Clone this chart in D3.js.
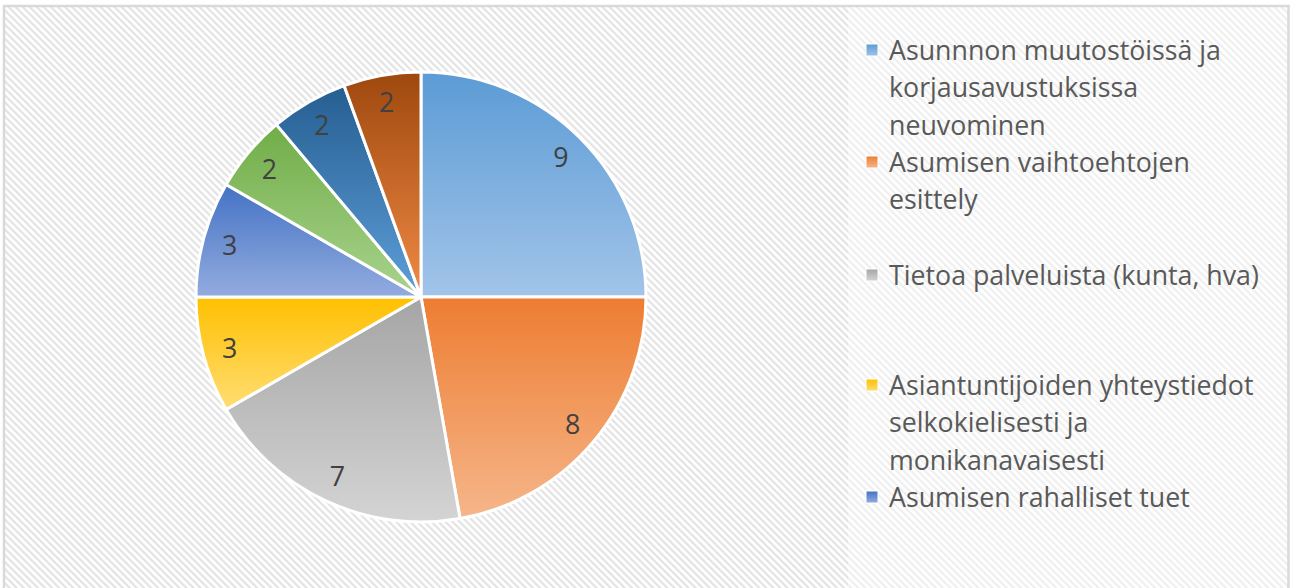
<!DOCTYPE html>
<html>
<head>
<meta charset="utf-8">
<script src="https://cdn.jsdelivr.net/npm/d3@7"></script>
<style>
  html, body { margin: 0; padding: 0; background: #fff; }
  svg { display: block; font-family: "Open Sans", sans-serif; }
</style>
</head>
<body>
<svg id="chart" width="1291" height="588"></svg>
<script>
var categories = ["Asunnnon muutostöissä ja korjausavustuksissa neuvominen",
                  "Asumisen vaihtoehtojen esittely",
                  "Tietoa palveluista (kunta, hva)",
                  "Asiantuntijoiden yhteystiedot selkokielisesti ja monikanavaisesti",
                  "Asumisen rahalliset tuet",
                  "Muu 6", "Muu 7", "Muu 8"];
var values = [9, 8, 7, 3, 3, 2, 2, 2];
var topColors = ["#5b9bd5", "#ed7d31", "#a5a5a5", "#ffc000", "#4472c4", "#70ad47", "#255e91", "#9e480e"];
var bottomColors = ["#a2c4e9", "#f6b68a", "#d4d4d4", "#ffdd73", "#93acdf", "#a9d38e", "#5e9ed8", "#f08a45"];

var width = 1291, height = 588;
var cx = 421, cy = 297, radius = 225;
var plotRight = 848;
var legendX = 866, textX = 889, lineH = 37.5;
var legendTops = [50, 162, 275, 385, 497];   // Excel spreads the entries; only 5 fit

var svg = d3.select("#chart");
var defs = svg.append("defs");

function hatch(id, color) {
	defs.append("pattern")
		.attr("id", id)
		.attr("patternUnits", "userSpaceOnUse")
		.attr("width", 5).attr("height", 5)
		.attr("patternTransform", "rotate(-45)")
		.call(function(p) {
			p.append("rect").attr("width", 5).attr("height", 5).attr("fill", "#fff");
			p.append("rect").attr("width", 2.2).attr("height", 5).attr("fill", color);
		});
}
hatch("hatchPlot", "#e3e3e3");
hatch("hatchChart", "#efefef");

values.forEach(function(v, i) {
	var g = defs.append("linearGradient")
		.attr("id", "grad" + i)
		.attr("x1", 0).attr("y1", 0).attr("x2", 0).attr("y2", 1);
	g.append("stop").attr("offset", "0%").attr("stop-color", topColors[i]);
	g.append("stop").attr("offset", "100%").attr("stop-color", bottomColors[i]);
});

// backgrounds
svg.append("rect").attr("x", 4).attr("y", 6).attr("width", width - 7).attr("height", height)
	.attr("fill", "url(#hatchChart)");
svg.append("rect").attr("x", 5).attr("y", 7).attr("width", plotRight - 5).attr("height", height)
	.attr("fill", "url(#hatchPlot)");
svg.append("rect").attr("x", 4).attr("y", 6).attr("width", width - 6.5).attr("height", height + 10)
	.attr("fill", "none").attr("stroke", "#d9d9d9").attr("stroke-width", 2.5);

// font size: fit the first legend line to about the width it has in the original
var probe = svg.append("text").attr("font-size", 20).attr("visibility", "hidden");
function measure(s) { probe.text(s); return probe.node().getComputedTextLength(); }
var fontSize = 20 * 332 / measure("Asunnnon muutostöissä ja");
probe.attr("font-size", fontSize);

// pie
var pie = d3.pie().sort(null).value(function(d) { return d; });
var arc = d3.arc().innerRadius(0).outerRadius(radius);
var labelArc = d3.arc().innerRadius(radius * 0.88).outerRadius(radius * 0.88);
var arcs = pie(values);

var pg = svg.append("g").attr("transform", "translate(" + cx + "," + cy + ")");

pg.selectAll("path.slice")
	.data(arcs)
	.enter().append("path")
	.attr("class", "slice")
	.attr("d", arc)
	.attr("fill", function(d, i) { return "url(#grad" + i + ")"; })
	.attr("stroke", "#fff")
	.attr("stroke-width", 3)
	.attr("stroke-linejoin", "round");

pg.selectAll("text.lbl")
	.data(arcs)
	.enter().append("text")
	.attr("class", "lbl")
	.attr("transform", function(d) { return "translate(" + labelArc.centroid(d) + ")"; })
	.attr("text-anchor", "middle")
	.attr("dy", "0.36em")
	.attr("font-size", fontSize)
	.attr("fill", "#404040")
	.text(function(d) { return d.data; });

// legend
function wrapWords(text, maxW) {
	var words = text.split(" "), lines = [], cur = "";
	words.forEach(function(w) {
		var test = cur ? cur + " " + w : w;
		if (cur && measure(test) > maxW) { lines.push(cur); cur = w; }
		else cur = test;
	});
	if (cur) lines.push(cur);
	return lines;
}

var lg = svg.append("g");
legendTops.forEach(function(y, i) {
	lg.append("rect")
		.attr("x", legendX).attr("y", y - 6)
		.attr("width", 12).attr("height", 12)
		.attr("fill", "url(#grad" + i + ")")
		.attr("stroke", "#fff").attr("stroke-width", 1);
	var lines = wrapWords(categories[i], 385);
	var t = lg.append("text")
		.attr("x", textX).attr("y", y)
		.attr("font-size", fontSize)
		.attr("fill", "#595959");
	lines.forEach(function(l, k) {
		t.append("tspan").attr("x", textX).attr("y", y + k * lineH).attr("dy", "0.36em").text(l);
	});
});
probe.remove();
</script>
</body>
</html>
